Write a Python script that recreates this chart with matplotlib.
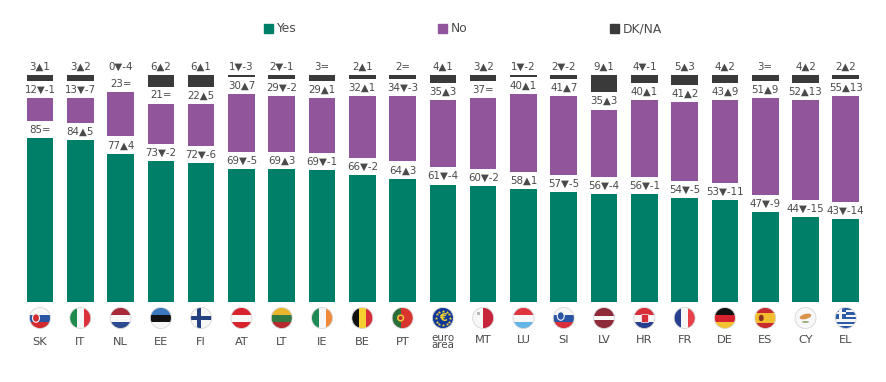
import numpy as np
import matplotlib
matplotlib.use("Agg")
import matplotlib.pyplot as plt
from matplotlib.patches import Circle, Rectangle, Ellipse, Patch

plt.rcParams["font.family"] = ["DejaVu Sans"]

# ─── Data ─────────────────────────────────────────────────────────────────

codes = ["SK", "IT", "NL", "EE", "FI", "AT", "LT", "IE", "BE", "PT", "euro\narea",
         "MT", "LU", "SI", "LV", "HR", "FR", "DE", "ES", "CY", "EL"]
yes = [85, 84, 77, 73, 72, 69, 69, 69, 66, 64, 61, 60, 58, 57, 56, 56, 54, 53, 47, 44, 43]
yes_delta = [0, 5, 4, -2, -6, -5, 3, -1, -2, 3, -4, -2, 1, -5, -4, -1, -5, -11, -9, -15, -14]
no = [12, 13, 23, 21, 22, 30, 29, 29, 32, 34, 35, 37, 40, 41, 35, 40, 41, 43, 51, 52, 55]
no_delta = [-1, -7, 0, 0, 5, 7, -2, 1, 1, -3, 3, 0, 1, 7, 3, 1, 2, 9, 9, 13, 13]
dk = [3, 3, 0, 6, 6, 1, 2, 3, 2, 2, 4, 3, 1, 2, 9, 4, 5, 4, 3, 4, 2]
dk_delta = [1, 2, -4, 2, 1, -3, -1, 0, 1, 0, 1, 2, -2, -2, 1, -1, 3, 2, 0, 2, 2]

GREEN, PURPLE, DARK = "#007F68", "#90559B", "#3A3A3A"
TXT = "#4A4A4A"

# ─── Flags: stripes as (direction, colours, weights) ──────────────────────

RED, BLUE, WHITE = "#D8232F", "#1F3F8F", "#F7F7F7"
stripes = {
    "SK": ("h", [WHITE, "#2A55A5", "#D32A30"], [1, 1, 1]),
    "IT": ("v", ["#1E8A4C", WHITE, "#D9303A"], [1, 1, 1]),
    "NL": ("h", ["#A82A38", WHITE, "#2C4A8E"], [1, 1, 1]),
    "EE": ("h", ["#3C78BE", "#111111", WHITE], [1, 1, 1]),
    "FI": ("h", [WHITE], [1]),
    "AT": ("h", [RED, WHITE, RED], [1, 1, 1]),
    "LT": ("h", ["#E8B52C", "#2F7A45", "#B52B30"], [1, 1, 1]),
    "IE": ("v", ["#1E8A55", WHITE, "#EE8A3A"], [1, 1, 1]),
    "BE": ("v", ["#111111", "#F5D02F", "#D8303A"], [1, 1, 1]),
    "PT": ("v", ["#2A6E3A", "#D8352F"], [2, 3]),
    "euro\narea": ("h", ["#10389A"], [1]),
    "MT": ("v", [WHITE, "#C5243A"], [1, 1]),
    "LU": ("h", ["#E0353F", WHITE, "#64B5E6"], [1, 1, 1]),
    "SI": ("h", [WHITE, "#2A55A5", "#D8303A"], [1, 1, 1]),
    "LV": ("h", ["#8E2A3A", WHITE, "#8E2A3A"], [2, 1, 2]),
    "HR": ("h", ["#D8303A", WHITE, "#26408F"], [1, 1, 1]),
    "FR": ("v", ["#26408F", WHITE, "#E8404A"], [1, 1, 1]),
    "DE": ("h", ["#111111", "#D8232F", "#F2C230"], [1, 1, 1]),
    "ES": ("h", ["#C8282F", "#F2BE2E", "#C8282F"], [1, 2, 1]),
    "CY": ("h", [WHITE], [1]),
    "EL": ("h", ["#2A5CA8", WHITE] * 4 + ["#2A5CA8"], [1] * 9),
}


def draw_flag(ax, code, cx, cy, r=10.5):
    """Round flag in pixel coordinates, stripes clipped to the circle."""
    clip = Circle((cx, cy), r, transform=ax.transData)
    direction, colours, weights = stripes[code]
    edges = np.concatenate([[0], np.cumsum(weights)]) / sum(weights) * 2 * r - r
    shapes = []
    for c, a, b in zip(colours, edges[:-1], edges[1:]):
        if direction == "h":
            shapes.append(Rectangle((cx - r, cy + a), 2 * r, b - a, fc=c, lw=0))
        else:
            shapes.append(Rectangle((cx + a, cy - r), b - a, 2 * r, fc=c, lw=0))
    if code == "FI":
        shapes.append(Rectangle((cx - r, cy - 2), 2 * r, 4, fc="#24407F", lw=0))
        shapes.append(Rectangle((cx - 4.5, cy - r), 4, 2 * r, fc="#24407F", lw=0))
    if code == "EL":
        shapes.append(Rectangle((cx - r, cy - r), r, r * 1.1, fc="#2A5CA8", lw=0))
        shapes.append(Rectangle((cx - r, cy - r + 4), r, 2.2, fc=WHITE, lw=0))
        shapes.append(Rectangle((cx - r / 2 - 1.1, cy - r), 2.2, r * 1.1, fc=WHITE, lw=0))
    if code in ("SK", "SI"):
        sx = cx - 4 if code == "SK" else cx - 3
        shapes.append(Ellipse((sx, cy + (0 if code == "SK" else -2)), 7, 8.5, fc="#D32A30" if code == "SK" else "#2A55A5", ec=WHITE, lw=0.8))
    if code == "HR":
        shapes.append(Rectangle((cx - 3.5, cy - 4), 7, 8, fc="#D8303A", ec=WHITE, lw=0.5))
    if code == "PT":
        shapes.append(Circle((cx - 2, cy), 3.6, fc="#F0C93A", lw=0))
        shapes.append(Circle((cx - 2, cy), 2, fc="#C8282F", lw=0))
    if code == "ES":
        shapes.append(Ellipse((cx - 4, cy), 5, 6.5, fc="#8E3020", lw=0))
    if code == "MT":
        shapes.append(Rectangle((cx - 6, cy - 6.5), 3, 3, fc="#B9B9B9", lw=0))
    if code == "CY":
        shapes.append(Ellipse((cx, cy - 1.5), 12, 5, angle=-15, fc="#D9924A", lw=0))
        shapes.append(Ellipse((cx, cy + 4), 7, 1.6, fc="#7E9A5A", lw=0))
    for s in shapes:
        ax.add_patch(s)
        s.set_clip_path(clip)
    if code == "euro\narea":
        for t in np.arange(12) * np.pi / 6:
            ax.plot(cx + 7.3 * np.cos(t), cy + 7.3 * np.sin(t), marker="*", ms=2.6,
                    color="#F2D22E", mew=0)
        ax.text(cx, cy, "€", color="#F2D22E", fontsize=8, ha="center", va="center",
                fontweight="bold")
    ax.add_patch(Circle((cx, cy), r, fc="none", ec="#D6D6D6", lw=0.6))


# ─── Figure ───────────────────────────────────────────────────────────────

W, H = 887, 382
X0, STEP, BASE = 40.0, 40.29, 301.7     # px of first bar centre, bar pitch, baseline
UNIT = 1.921                            # px per percentage point
GAP = 17.3 / UNIT                       # white space kept for the labels

fig = plt.figure(figsize=(W / 100, H / 100), dpi=100)
ax = fig.add_axes([0, 0, 1, 1])
ax.set_xlim(-X0 / STEP, (W - X0) / STEP)
ax.set_ylim(-(H - BASE) / UNIT, BASE / UNIT)
ax.axis("off")

x = np.arange(len(codes))
y_arr, n_arr, d_arr = map(np.array, (yes, no, dk))
scale = 100 / (y_arr + n_arr + d_arr)    # labels are rounded, stacks always fill 100

h_yes = y_arr * scale
h_no = n_arr * scale
h_dk = d_arr * scale
b_no = h_yes + GAP
b_dk = b_no + h_no + GAP
bw = 26.6 / STEP

ax.bar(x, h_yes, bw, color=GREEN, label="Yes")
ax.bar(x, h_no, bw, bottom=b_no, color=PURPLE, label="No")
ax.bar(x, h_dk, bw, bottom=b_dk, color=DARK, label="DK/NA")


def fmt(v, d):
    if d > 0:
        return f"{v}▲{d}"
    if d < 0:
        return f"{v}▼{d}"
    return f"{v}="


for i in x:
    tops = [h_yes[i], b_no[i] + h_no[i], b_dk[i] + h_dk[i]]
    vals = [(yes[i], yes_delta[i]), (no[i], no_delta[i]), (dk[i], dk_delta[i])]
    for top, (v, d) in zip(tops, vals):
        ax.annotate(fmt(v, d), (i, top), xytext=(0, 6.0), textcoords="offset points",
                    ha="center", va="center", fontsize=7.4, color=TXT)
    # the labels of the second half of the row sit slightly higher
    if codes[i] == "euro\narea":
        ax.annotate(codes[i], (i, 0), xytext=(0, -28.6), textcoords="offset points",
                    ha="center", va="center", fontsize=7.4, color=TXT, linespacing=0.72)
    else:
        off = -29.2 if i < 10 else -27.8
        ax.annotate(codes[i], (i, 0), xytext=(0, off), textcoords="offset points",
                    ha="center", va="center", fontsize=8.2, color=TXT)

handles = [Patch(color=GREEN, label="Yes"), Patch(color=PURPLE, label="No"),
           Patch(color=DARK, label="DK/NA")]
ax.legend(handles=handles, ncol=3, frameon=False, loc="center left",
          bbox_to_anchor=(263.5 / W, 1 - 29 / H), bbox_transform=fig.transFigure,
          borderaxespad=0, borderpad=0, fontsize=8.8, labelcolor=TXT,
          handlelength=0.74, handleheight=0.74, handletextpad=0.25, columnspacing=11.7)

# flags live on their own pixel-sized overlay so that they stay round
fl = fig.add_axes([0, 0, 1, 1], zorder=3)
fl.set_xlim(0, W)
fl.set_ylim(H, 0)
fl.axis("off")
fl.patch.set_alpha(0)
for i, code in enumerate(codes):
    draw_flag(fl, code, X0 + STEP * i, 318)

fig.savefig("out.png", dpi=100)
plt.close(fig)
